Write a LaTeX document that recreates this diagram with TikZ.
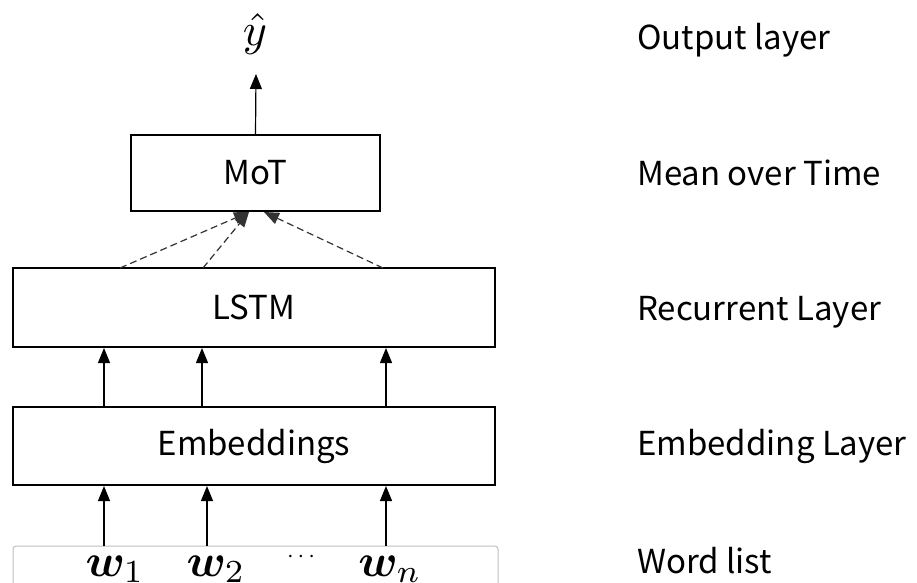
\documentclass[tikz,border=0pt]{standalone}
\usepackage{amsmath}
\usepackage{bm}
\usepackage{graphicx}
\usepackage{fontspec}
\usetikzlibrary{arrows.meta}
\newfontfamily\labfont{Noto Sans CJK SC}
\newcommand{\mybigmath}[1]{\scalebox{4.6}{$#1$}}
\begin{document}
\begin{tikzpicture}[x=1pt,y=-1pt,
  box/.style={draw, line width=2pt, inner sep=0pt, font=\labfont\fontsize{33}{38}\selectfont},
  lab/.style={anchor=west, inner sep=0pt, font=\labfont\fontsize{33}{38}\selectfont},
  mth/.style={inner sep=0pt},
  arr/.style={line width=1.2pt, -{Triangle[width=12pt,length=15pt]}},
  darr/.style={line width=1.2pt, dashed, dash pattern=on 7pt off 4pt, black!80, -{Triangle[width=12pt,length=15pt]}}]
\useasboundingbox (0,0) rectangle (917,582);
% boxes
\node[box, minimum width=249pt, minimum height=76pt] (mot) at (255.5,173) {MoT};
\node[box, minimum width=482pt, minimum height=79pt] (lstm) at (254,307.5) {LSTM};
\node[box, minimum width=482pt, minimum height=78pt] (emb) at (254,446) {Embeddings};
\node[draw=black!25, line width=1pt, rounded corners=3pt, minimum width=485pt, minimum height=48pt] (wl) at (255.5,570) {};
% word symbols
\node[mth, anchor=base] (w1) at (115,576) {\mybigmath{\bm{w}_1}};
\node[mth, anchor=base] (w2) at (216,576) {\mybigmath{\bm{w}_2}};
\node[mth] (dots) at (303,557) {\scalebox{2.4}{$\cdots$}};
\node[mth, anchor=base] (wn) at (390,576) {\mybigmath{\bm{w}_n}};
% output
\node[mth] (yhat) at (255,34) {\mybigmath{\hat{y}}};
% coordinates
\coordinate (a1) at (104,546);
\coordinate (a2) at (207,546);
\coordinate (a3) at (386,546);
\coordinate (b1) at (104,407);
\coordinate (b2) at (202,407);
\coordinate (b3) at (386,407);
\coordinate (d1) at (120,268);
\coordinate (d2) at (203,268);
\coordinate (d3) at (383,268);
\coordinate (t1) at (249,212);
\coordinate (t2) at (264,212);
\coordinate (ytop) at (256,74);
% arrows
\draw[arr] (a1) -- (a1 |- emb.south);
\draw[arr] (a2) -- (a2 |- emb.south);
\draw[arr] (a3) -- (a3 |- emb.south);
\draw[arr] (b1) -- (b1 |- lstm.south);
\draw[arr] (b2) -- (b2 |- lstm.south);
\draw[arr] (b3) -- (b3 |- lstm.south);
\draw[darr] (d1) -- (t1);
\draw[darr] (d2) -- (t1);
\draw[darr] (d3) -- (t2);
\draw[arr] (mot.north) -- (ytop);
% labels
\node[lab] (l1) at (637,40) {Output layer};
\node[lab] (l2) at (637,173) {Mean over Time};
\node[lab] (l3) at (637,312) {Recurrent Layer};
\node[lab] (l4) at (637,446) {Embedding Layer};
\node[lab] (l5) at (637,561) {Word list};
\end{tikzpicture}
\end{document}
